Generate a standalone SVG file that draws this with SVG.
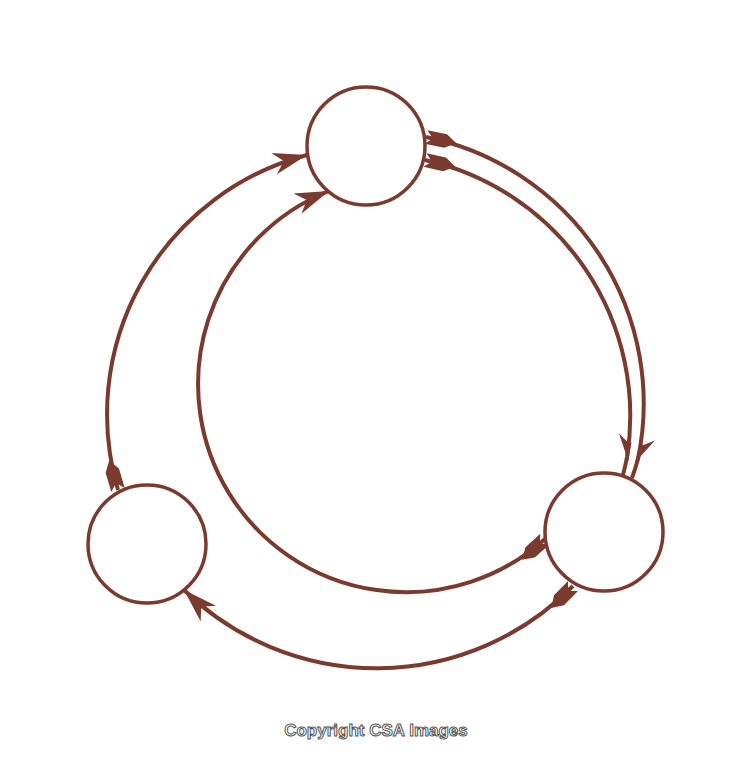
<svg xmlns="http://www.w3.org/2000/svg" width="750" height="758" viewBox="0 0 750 758">
<defs>
<style>
.node{fill:#fff;stroke:#7b3a2e;stroke-width:3.5}
.conn{fill:none;stroke:#7b3a2e;stroke-width:4}
.mk{fill:#7b3a2e;stroke:none}
.copy{font-family:"Liberation Sans",Arial,sans-serif;font-weight:bold;font-size:17px;fill:#fff;stroke:#555;stroke-width:1}
</style>
<marker id="fletch" markerUnits="userSpaceOnUse" orient="auto" markerWidth="44" markerHeight="34" refX="0" refY="0" viewBox="-5 -17 44 34" overflow="visible">
<path class="mk" d="M0,-7 L7,0 L0,7 L20,7 L31,0 L20,-7 Z"/>
</marker>
<marker id="head" markerUnits="userSpaceOnUse" orient="auto" markerWidth="44" markerHeight="34" refX="0" refY="0" viewBox="-39 -17 44 34" overflow="visible">
<path class="mk" d="M0,0 L-34,-11 L-24,0 L-34,11 Z"/>
</marker>
<marker id="barbL" markerUnits="userSpaceOnUse" orient="auto" markerWidth="40" markerHeight="30" refX="0" refY="0" viewBox="-30 -15 40 30" overflow="visible">
<path class="mk" d="M4,-2 L-22,12 L-15,2 L-15,-2 Z"/>
</marker>
<marker id="barbR" markerUnits="userSpaceOnUse" orient="auto" markerWidth="40" markerHeight="30" refX="0" refY="0" viewBox="-30 -15 40 30" overflow="visible">
<path class="mk" d="M4,2 L-22,-12 L-15,-2 L-15,2 Z"/>
</marker>
</defs>
<rect width="750" height="758" fill="#fff"/>
<g id="connectors">
<path id="c-left-top" class="conn" d="M118,490 A268,268 0 0 1 307,155" marker-start="url(#fletch)" marker-end="url(#head)"/>
<path id="c-right-top" class="conn" d="M545,539 A208,208 0 1 1 329,191" marker-start="url(#fletch)" marker-end="url(#head)"/>
<path id="c-top-right-outer" class="conn" d="M426,137 A272,272 0 0 1 638,459 A272,272 0 0 1 632,478" marker-start="url(#fletch)" marker-mid="url(#barbR)"/>
<path id="c-top-right-inner" class="conn" d="M425,160 A262,262 0 0 1 627,457 A262,262 0 0 1 623,475" marker-start="url(#fletch)" marker-mid="url(#barbL)"/>
<path id="c-right-left" class="conn" d="M573,586 A276,276 0 0 1 184,590" marker-start="url(#fletch)" marker-end="url(#head)"/>
</g>
<g id="node-top"><circle class="node" cx="366" cy="146" r="59"/></g>
<g id="node-right"><circle class="node" cx="604" cy="532" r="59"/></g>
<g id="node-left"><circle class="node" cx="147" cy="544" r="59"/></g>
<text class="copy" x="376" y="736" text-anchor="middle">Copyright CSA Images</text>
</svg>
